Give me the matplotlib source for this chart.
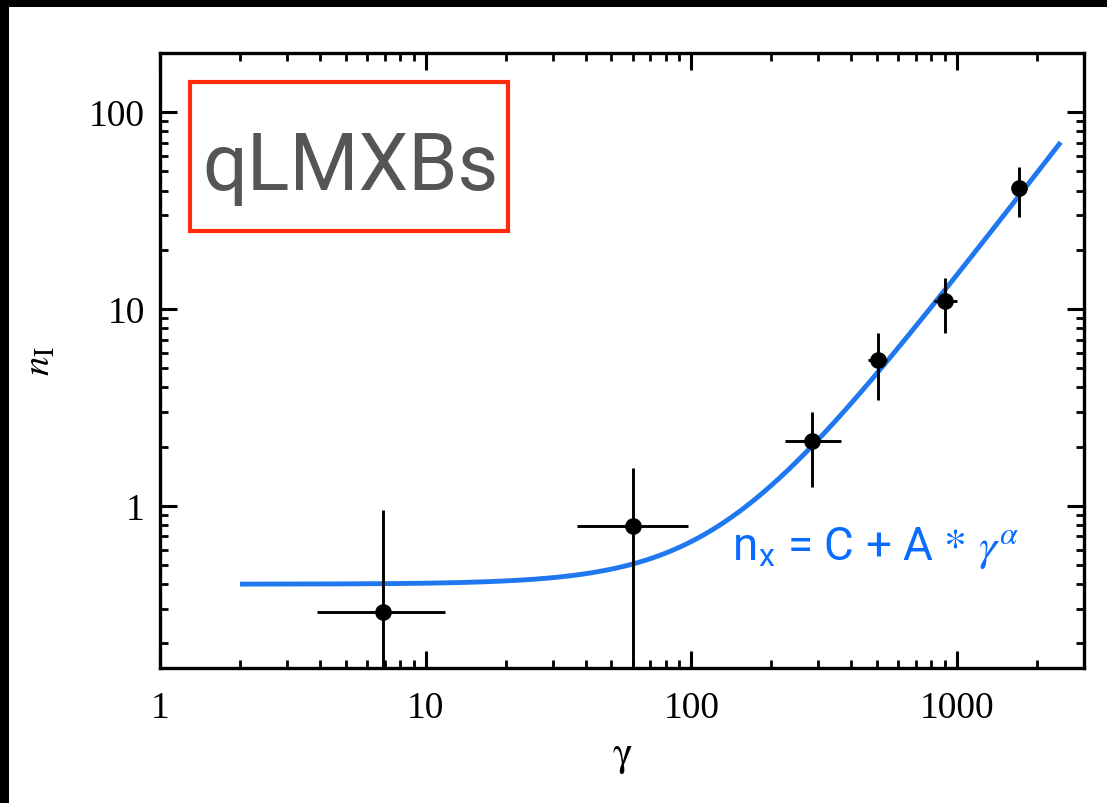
import numpy as np
import matplotlib
matplotlib.use("Agg")
import matplotlib.pyplot as plt
from matplotlib.patches import Rectangle
from matplotlib.ticker import FixedLocator, FixedFormatter, LogLocator, NullFormatter

# ---- data ----
gamma = [6.9, 60.5, 285, 505, 900, 1710]
n_obs = [0.29, 0.79, 2.14, 5.5, 11.0, 41.0]
gamma_lo = [3.9, 37, 225, 460, 820, 1710]
gamma_hi = [11.8, 97, 366, 545, 1000, 1710]
n_lo = [0.01, 0.01, 1.25, 3.45, 7.6, 29.3]
n_hi = [0.95, 1.55, 3.0, 7.6, 14.4, 52.8]

# fitted model n = C + A * gamma^alpha (parameters estimated from the drawn curve)
fit_C = 0.40
fit_A = 8.2e-5
fit_alpha = 1.75
fit_range = [2.0, 2450.0]

x_ticks = [1, 10, 100, 1000]
x_ticklabels = ["1", "10", "100", "1000"]
y_ticks = [1, 10, 100]
y_ticklabels = ["1", "10", "100"]

plt.rcParams['mathtext.fontset'] = 'stix'
serif = ['Liberation Serif', 'DejaVu Serif']
sans = ['Roboto', 'Liberation Sans', 'DejaVu Sans']

fig = plt.figure(figsize=(11.07, 8.04), dpi=100)
fig.patch.set_facecolor('white')
# black frame at top and left of the reference image
fig.patches.append(Rectangle((0, 1 - 8/804), 1, 8/804, transform=fig.transFigure,
                             facecolor='black', edgecolor='none', zorder=10))
fig.patches.append(Rectangle((0, 0), 9/1107, 1, transform=fig.transFigure,
                             facecolor='black', edgecolor='none', zorder=10))

ax = fig.add_axes([160/1107, 1 - 669/804, (1084-160)/1107, (669-54)/804])
ax.set_xscale('log')
ax.set_yscale('log')
ax.set_xlim(1, 3000)
ax.set_ylim(0.15, 200)

# model curve
g = np.logspace(np.log10(fit_range[0]), np.log10(fit_range[1]), 400)
ax.plot(g, fit_C + fit_A * g**fit_alpha, color='#1f78f0', lw=3.5, zorder=3,
        solid_capstyle='butt')

# data with error bars
gx = np.array(gamma); ny = np.array(n_obs)
xerr = np.vstack([gx - np.array(gamma_lo), np.array(gamma_hi) - gx])
yerr = np.vstack([ny - np.array(n_lo), np.array(n_hi) - ny])
ax.errorbar(gx, ny, xerr=xerr, yerr=yerr, fmt='o', color='black', ms=11,
            elinewidth=2.1, capsize=0, zorder=4)

# ticks
for side in ['left', 'right', 'top', 'bottom']:
    ax.spines[side].set_linewidth(2.4)
ax.xaxis.set_major_locator(FixedLocator(x_ticks))
ax.xaxis.set_major_formatter(FixedFormatter(x_ticklabels))
ax.yaxis.set_major_locator(FixedLocator(y_ticks))
ax.yaxis.set_major_formatter(FixedFormatter(y_ticklabels))
ax.xaxis.set_minor_locator(LogLocator(base=10, subs=np.arange(2, 10)))
ax.yaxis.set_minor_locator(LogLocator(base=10, subs=np.arange(2, 10)))
ax.xaxis.set_minor_formatter(NullFormatter())
ax.yaxis.set_minor_formatter(NullFormatter())
ax.tick_params(which='both', direction='in', top=True, right=True, color='black')
ax.tick_params(which='major', length=12, width=2.2)
ax.tick_params(which='minor', length=6, width=2.0)
ax.tick_params(axis='x', which='major', pad=16)
ax.tick_params(axis='y', which='major', pad=11)
for lab in ax.get_xticklabels() + ax.get_yticklabels():
    lab.set_fontfamily(serif)
    lab.set_fontsize(27)

ax.set_xlabel(r'$\mathrm{\gamma}$', fontsize=30, labelpad=6)
ax.set_ylabel(r'$n_{\mathrm{I}}$', fontsize=28, labelpad=22)

# red-box label
ax.add_patch(Rectangle((30/924, (669-232)/615), 318/924, 149/615, transform=ax.transAxes,
                       facecolor='none', edgecolor='#ff2a0a', lw=3.0, zorder=5))
ax.text((350-160)/924, (669-190)/615, 'qLMXBs', transform=ax.transAxes,
        ha='center', va='baseline', fontsize=57, color='#555555', family=sans, zorder=6)

# formula
ax.text((732-160)/924, (669-548)/615, r'n$_{\mathregular{x}}$ = C + A $*$ $\gamma^{\alpha}$',
        transform=ax.transAxes, ha='left', va='center', fontsize=33, color='#0a6cff',
        family=sans, zorder=6)

fig.savefig('out.png', dpi=100)
